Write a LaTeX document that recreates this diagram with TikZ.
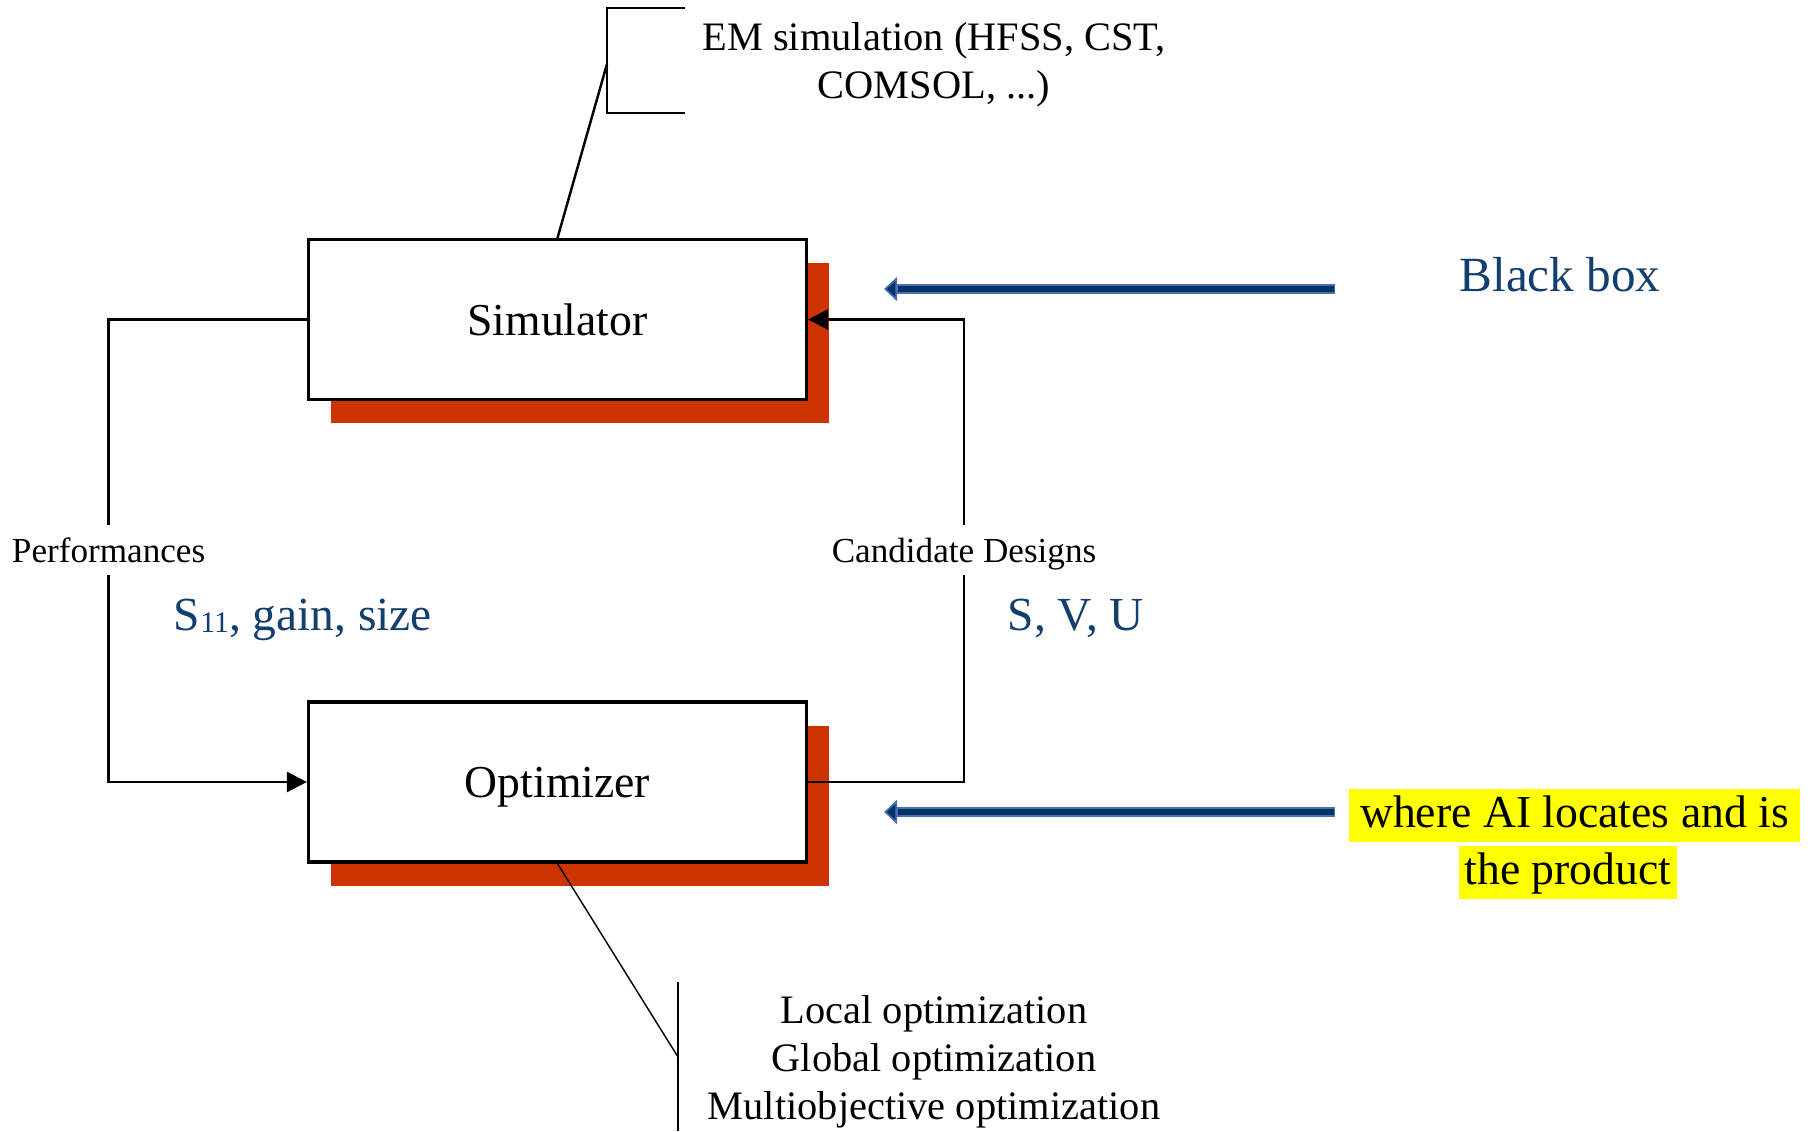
\documentclass[tikz,border=0pt]{standalone}
\usepackage{fontspec}
\setmainfont{Liberation Serif}
\usetikzlibrary{arrows.meta, positioning, calc, shadows}
\definecolor{shadowred}{HTML}{CC3300}
\definecolor{inkblue}{HTML}{123F6E}
\definecolor{navyfill}{HTML}{003366}
\definecolor{navyrim}{HTML}{4A6FB0}
\definecolor{marker}{HTML}{FFFF00}

\begin{document}
\begin{tikzpicture}[x=0.1mm, y=-0.1mm, >={Triangle[length=2mm, width=2mm]},
  block/.style={draw, line width=0.9pt, fill=white, minimum width=49.8mm, minimum height=16mm,
    text height=9pt, text depth=0pt, font=\fontsize{13}{15}\selectfont,
    general shadow={fill=shadowred, shadow xshift=2.2mm, shadow yshift=-2.4mm}},
  loopline/.style={line width=0.7pt},
  tag/.style={fill=white, inner xsep=1pt, inner ysep=3.5pt, text height=7pt, text depth=0pt,
    font=\fontsize{10}{12}\selectfont},
  bluetxt/.style={text=inkblue, text height=9.5pt, text depth=0pt, font=\fontsize{13.5}{16}\selectfont},
  note/.style={align=center, font=\fontsize{11.5}{13.6}\selectfont},
  hilite/.style={fill=marker, inner xsep=1.5pt, inner ysep=1pt, text height=10pt, text depth=3pt,
    font=\fontsize{13}{15}\selectfont}]
  \useasboundingbox (0,0) rectangle (1812,1131);

  % the two blocks of the loop
  \node[block] (sim) at (557.5,319.5) {Simulator};
  \node[block] (opt) at (557.5,782) {Optimizer};

  \node[tag] (perf) at (108.6,550) {Performances};
  \node[tag] (cand) at (964,550) {Candidate Designs};
  \draw[loopline] (sim.west) -| (perf.north);
  \draw[loopline, ->] (perf.south) |- (opt.west);
  \draw[loopline] (opt.east) -| (cand.south);
  \draw[loopline, ->] (cand.north) |- (sim.east);

  \node[bluetxt] (perfval) at (303,614) {S\raisebox{-0.4pt}{\fontsize{8.5}{9}\selectfont 11}, gain, size};
  \node[bluetxt] (candval) at (1076,614) {S, V, U};
  \node[bluetxt, font=\fontsize{14}{16}\selectfont] (bbtxt) at (1560,275) {Black box};

  % callouts
  \node[note] (emtxt) at (934,65) {EM simulation (HFSS, CST,\\COMSOL, ...)};
  \coordinate (emtip) at (607,64);
  \draw[line width=0.7pt] (sim.north) -- (emtip);
  \draw[line width=0.7pt] (685,8) -- (607,8) -- (607,113) -- (685,113);

  \node[note] (opttxt) at (934,1062) {Local optimization\\Global optimization\\Multiobjective optimization};
  \coordinate (optip) at (678,1057);
  \draw[line width=0.4pt] (opt.south) -- (optip);
  \draw[line width=0.4pt] (678,982) -- (678,1131);

  \node[hilite, inner xsep=3.2pt] (ai1) at (1574.5,815.5) {where AI locates and is};
  \node[hilite] (ai2) at (1568,872.5) {the product};

  % thick blue pointers
  \coordinate (bbfrom) at (1335,289); \coordinate (bbto) at (884,289);
  \coordinate (aifrom) at (1335,812); \coordinate (aito) at (884,812);
  \foreach \a/\b in {bbfrom/bbto, aifrom/aito}{
    \draw[navyrim, line width=2.6pt, -{Triangle[length=1.3mm, width=2.4mm, line width=0.5pt, fill=navyfill]}] (\a) -- (\b);
    \draw[navyfill, line width=1.6pt, shorten >=1.4mm, shorten <=0.3pt] (\a) -- (\b);
  }
\end{tikzpicture}
\end{document}
